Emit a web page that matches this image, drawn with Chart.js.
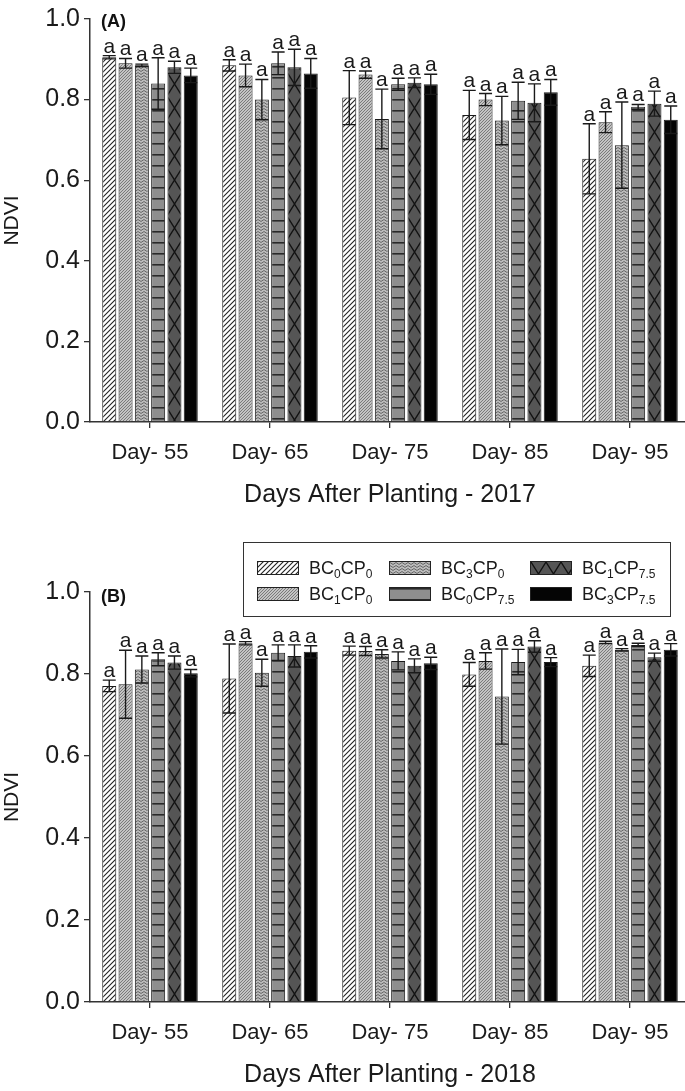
<!DOCTYPE html>
<html><head><meta charset="utf-8">
<script src="https://cdn.jsdelivr.net/npm/chart.js@4.4.1/dist/chart.umd.min.js"></script>
<style>
html,body{margin:0;padding:0;background:#fff;overflow:hidden;width:685px;height:1091px;}
#wrap{position:relative;width:685px;height:1091px;overflow:hidden;}
#wrap > canvas{position:absolute;left:0;}
#cA{top:0}
#cB{top:550px}
#legend{position:absolute;left:243px;top:542px;width:426px;height:73px;border:1.5px solid #333;background:#fff;font-family:"Liberation Sans",Arial,sans-serif;font-size:18px;color:#1a1a1a;}
.item{position:absolute;display:flex;align-items:center;height:20px;white-space:nowrap;}
.item canvas{display:block;border:1px solid #222;margin-right:10px;}
.item sub{font-size:12px;vertical-align:-4px;line-height:0;}
</style></head>
<body>
<div id="wrap">
<canvas id="cA" width="700" height="540"></canvas>
<canvas id="cB" width="700" height="541"></canvas>
<div id="legend"></div>
</div>
<script>
// ---------- data ----------
const days = ['Day- 55', 'Day- 65', 'Day- 75', 'Day- 85', 'Day- 95'];
const treatmentBC = ['0', '1', '3', '0', '1', '3'];
const treatmentCP = ['0', '0', '0', '7.5', '7.5', '7.5'];
const yTicks = [0, 0.2, 0.4, 0.6, 0.8, 1.0];

// 2017 (panel A) mean NDVI per treatment across days
const ndvi2017_BC0CP0   = [0.905, 0.885, 0.805, 0.762, 0.653];
const ndvi2017_BC1CP0   = [0.890, 0.860, 0.862, 0.800, 0.744];
const ndvi2017_BC3CP0   = [0.885, 0.800, 0.752, 0.748, 0.687];
const ndvi2017_BC0CP75  = [0.840, 0.890, 0.838, 0.797, 0.782];
const ndvi2017_BC1CP75  = [0.880, 0.880, 0.842, 0.792, 0.790];
const ndvi2017_BC3CP75  = [0.860, 0.865, 0.838, 0.818, 0.750];
// 2017 error (±)
const err2017_BC0CP0  = [0.004, 0.014, 0.067, 0.061, 0.087];
const err2017_BC1CP0  = [0.012, 0.028, 0.009, 0.015, 0.026];
const err2017_BC3CP0  = [0.003, 0.050, 0.074, 0.060, 0.107];
const err2017_BC0CP75 = [0.064, 0.028, 0.015, 0.046, 0.006];
const err2017_BC1CP75 = [0.015, 0.045, 0.012, 0.047, 0.031];
const err2017_BC3CP75 = [0.018, 0.037, 0.025, 0.032, 0.034];

// 2018 (panel B)
const ndvi2018_BC0CP0   = [0.771, 0.789, 0.857, 0.799, 0.820];
const ndvi2018_BC1CP0   = [0.775, 0.875, 0.856, 0.832, 0.877];
const ndvi2018_BC3CP0   = [0.811, 0.803, 0.849, 0.745, 0.859];
const ndvi2018_BC0CP75  = [0.836, 0.852, 0.832, 0.829, 0.871];
const ndvi2018_BC1CP75  = [0.828, 0.844, 0.820, 0.867, 0.841];
const ndvi2018_BC3CP75  = [0.802, 0.854, 0.826, 0.829, 0.859];
const err2018_BC0CP0  = [0.014, 0.084, 0.011, 0.029, 0.026];
const err2018_BC1CP0  = [0.083, 0.004, 0.011, 0.020, 0.003];
const err2018_BC3CP0  = [0.033, 0.033, 0.010, 0.116, 0.003];
const err2018_BC0CP75 = [0.016, 0.019, 0.022, 0.031, 0.004];
const err2018_BC1CP75 = [0.016, 0.027, 0.017, 0.014, 0.010];
const err2018_BC3CP75 = [0.009, 0.015, 0.015, 0.011, 0.015];

// significance letters (same for every bar of a day)
const letters2017 = ['a', 'a', 'a', 'a', 'a'];
const letters2018 = ['a', 'a', 'a', 'a', 'a'];

// ---------- patterns ----------
function tile(w, h, draw) {
  const c = document.createElement('canvas'); c.width = w; c.height = h;
  const g = c.getContext('2d'); draw(g, w, h); return c;
}
const tiles = [
  tile(5, 5, (g, w, h) => { g.fillStyle = '#fff'; g.fillRect(0, 0, w, h);
    g.strokeStyle = '#222'; g.lineWidth = 1.1; g.beginPath();
    g.moveTo(-1, 6); g.lineTo(6, -1); g.moveTo(-1, 1); g.lineTo(1, -1); g.moveTo(4, 6); g.lineTo(6, 4); g.stroke(); }),
  tile(3, 3, (g) => { g.fillStyle = '#c4c4c4'; g.fillRect(0, 0, 3, 3);
    g.fillStyle = '#7a7a7a'; g.fillRect(0, 0, 1, 1); g.fillRect(1, 2, 1, 1); g.fillRect(2, 1, 1, 1); }),
  tile(6, 6, (g, w, h) => { g.fillStyle = '#bcbcbc'; g.fillRect(0, 0, w, h);
    g.strokeStyle = '#666'; g.lineWidth = 1; g.beginPath();
    g.moveTo(0, 0.5); g.lineTo(3, 2.5); g.lineTo(6, 0.5); g.moveTo(0, 3.5); g.lineTo(3, 5.5); g.lineTo(6, 3.5); g.stroke(); }),
  tile(4, 11, (g, w, h) => { g.fillStyle = '#8e8e8e'; g.fillRect(0, 0, w, h);
    g.fillStyle = '#2a2a2a'; g.fillRect(0, 0, w, 1.6); }),
  tile(15, 24, (g, w, h) => { g.fillStyle = '#555'; g.fillRect(0, 0, w, h);
    g.strokeStyle = '#111'; g.lineWidth = 1.3; g.beginPath();
    g.moveTo(0, 0); g.lineTo(w, h); g.moveTo(w, 0); g.lineTo(0, h); g.stroke(); }),
  tile(2, 2, (g) => { g.fillStyle = '#050505'; g.fillRect(0, 0, 2, 2); })
];
const pctx = document.createElement('canvas').getContext('2d');
function patterns(shiftX) {
  return tiles.map((t, i) => {
    const p = pctx.createPattern(t, 'repeat');
    if (i === 4 && p.setTransform) p.setTransform(new DOMMatrix([1, 0, 0, 1, shiftX, 0]));
    return p;
  });
}

// ---------- plugin: error bars, letters, panel label ----------
const FONT = '"Liberation Sans", Arial, sans-serif';
const errPlugin = {
  id: 'errLetters',
  afterDatasetsDraw(chart, args, opts) {
    const ctx = chart.ctx, y = chart.scales.y;
    chart.data.datasets.forEach((ds, i) => {
      const meta = chart.getDatasetMeta(i);
      meta.data.forEach((bar, j) => {
        const v = ds.data[j], e = ds.errors[j];
        const yt = y.getPixelForValue(v + e), yb = y.getPixelForValue(v - e);
        const x = bar.x, hw = 6.5;
        ctx.save();
        ctx.strokeStyle = '#1a1a1a'; ctx.lineWidth = 1.4;
        ctx.beginPath();
        ctx.moveTo(x, yt); ctx.lineTo(x, yb);
        ctx.moveTo(x - hw, yt); ctx.lineTo(x + hw, yt);
        ctx.moveTo(x - hw, yb); ctx.lineTo(x + hw, yb);
        ctx.stroke();
        ctx.fillStyle = '#1a1a1a'; ctx.font = '21px ' + FONT;
        ctx.textAlign = 'center'; ctx.textBaseline = 'alphabetic';
        ctx.fillText(ds.letters[j], x, yt - 3);
        ctx.restore();
      });
    });
    const a = chart.chartArea;
    ctx.save();
    ctx.fillStyle = '#111'; ctx.font = 'bold 18px ' + FONT;
    ctx.textAlign = 'left'; ctx.textBaseline = 'middle';
    ctx.fillText(opts.label, a.left + 11, a.top + opts.labelDy);
    ctx.restore();
  }
};

function makeChart(id, vals, errs, letters, xTitle, panel, padTop, xHeight, titlePadBottom, labelDy) {
  const pats = patterns(1.95);
  const datasets = vals.map((d, i) => ({
    label: 'BC' + treatmentBC[i] + 'CP' + treatmentCP[i],
    data: d,
    errors: errs[i],
    letters: letters,
    backgroundColor: pats[i],
    borderColor: '#1a1a1a',
    borderWidth: 1,
    barPercentage: 0.86,
    categoryPercentage: 0.815
  }));
  return new Chart(document.getElementById(id), {
    type: 'bar',
    data: { labels: days, datasets },
    plugins: [errPlugin],
    options: {
      responsive: false, animation: false, devicePixelRatio: 1,
      layout: { padding: { top: padTop, right: 10, bottom: 0, left: 0 } },
      plugins: { legend: { display: false }, tooltip: { enabled: false },
                 errLetters: { label: panel, labelDy } },
      scales: {
        x: {
          grid: { display: true, drawOnChartArea: false, drawTicks: true, tickLength: 6, offset: false, color: '#333', lineWidth: 1.3 },
          border: { display: true, color: '#333', width: 1.5 },
          ticks: { font: { size: 22, family: FONT }, color: '#1a1a1a', padding: 12, maxRotation: 0 },
          title: { display: true, text: xTitle, font: { size: 25, family: FONT }, color: '#1a1a1a', padding: { top: 0, bottom: titlePadBottom } },
          afterFit: s => { s.height = xHeight; }
        },
        y: {
          min: 0, max: 1,
          afterBuildTicks: s => { s.ticks = yTicks.map(v => ({ value: v })); },
          grid: { display: true, drawOnChartArea: false, drawTicks: true, tickLength: 6, color: '#333', lineWidth: 1.3 },
          border: { display: true, color: '#333', width: 1.5 },
          ticks: { font: { size: 25, family: FONT }, color: '#1a1a1a', padding: 4, callback: v => Number(v).toFixed(1) },
          title: { display: true, text: 'NDVI', font: { size: 21, family: FONT }, color: '#1a1a1a', padding: { top: 0, bottom: 0 } },
          afterFit: s => { s.width = 90; }
        }
      }
    }
  });
}

makeChart('cA',
  [ndvi2017_BC0CP0, ndvi2017_BC1CP0, ndvi2017_BC3CP0, ndvi2017_BC0CP75, ndvi2017_BC1CP75, ndvi2017_BC3CP75],
  [err2017_BC0CP0, err2017_BC1CP0, err2017_BC3CP0, err2017_BC0CP75, err2017_BC1CP75, err2017_BC3CP75],
  letters2017, 'Days After Planting - 2017', '(A)', 13, 118, 30, 3);
makeChart('cB',
  [ndvi2018_BC0CP0, ndvi2018_BC1CP0, ndvi2018_BC3CP0, ndvi2018_BC0CP75, ndvi2018_BC1CP75, ndvi2018_BC3CP75],
  [err2018_BC0CP0, err2018_BC1CP0, err2018_BC3CP0, err2018_BC0CP75, err2018_BC1CP75, err2018_BC3CP75],
  letters2018, 'Days After Planting - 2018', '(B)', 42, 89, 1, 5);

// ---------- legend (column-major, 2 rows x 3 columns) ----------
const legend = document.getElementById('legend');
const colX = [13, 145, 286], rowY = [15, 41];
treatmentBC.forEach((bc, i) => {
  const col = Math.floor(i / 2), row = i % 2;
  const it = document.createElement('div');
  it.className = 'item';
  it.style.left = colX[col] + 'px'; it.style.top = rowY[row] + 'px';
  const sw = document.createElement('canvas'); sw.width = 40; sw.height = 12;
  const g = sw.getContext('2d');
  g.fillStyle = g.createPattern(tiles[i], 'repeat');
  g.fillRect(0, 0, 40, 12);
  it.appendChild(sw);
  const t = document.createElement('span');
  t.innerHTML = 'BC<sub>' + bc + '</sub>CP<sub>' + treatmentCP[i] + '</sub>';
  it.appendChild(t);
  legend.appendChild(it);
});
</script>
</body></html>
